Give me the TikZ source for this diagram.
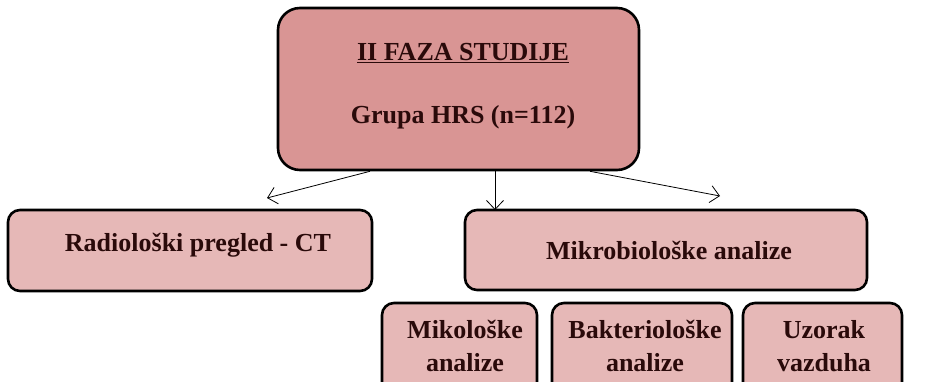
\documentclass[tikz,border=0pt]{standalone}
\usepackage{fontspec}
\setmainfont{Liberation Serif}
\usetikzlibrary{arrows.meta}
\definecolor{topfill}{HTML}{D99594}
\definecolor{boxfill}{HTML}{E6B8B7}
\definecolor{inkdark}{HTML}{2A0A0A}
\tikzset{
  lbl/.style={text=inkdark, font=\bfseries\fontsize{26}{33}\selectfont, align=center, inner sep=0pt},
  box/.style={draw=black, line width=2.6pt, fill=boxfill, rounded corners=12pt, inner sep=0pt},
  topbox/.style={box, fill=topfill, rounded corners=22pt},
  conn/.style={line width=0.8pt, -{Straight Barb[length=9pt,width=17pt,line width=0.8pt]}}
}
\begin{document}
\begin{tikzpicture}[x=1pt,y=-1pt]
\useasboundingbox (0,0) rectangle (925,382);
\begin{scope}
\clip (0,0) rectangle (925,382);
% top box
\node[topbox, minimum width=361pt, minimum height=162pt] (top) at (458.5,89) {};
% second row
\node[box, minimum width=364pt, minimum height=81pt] (rad) at (190,250.5) {};
\node[box, minimum width=402pt, minimum height=80pt] (mik) at (666,250) {};
% third row (runs past the lower edge)
\node[box, minimum width=155pt, minimum height=100pt] (myk) at (459.5,353) {};
\node[box, minimum width=180pt, minimum height=100pt] (bak) at (642,353) {};
\node[box, minimum width=159pt, minimum height=100pt] (uzo) at (822.5,353) {};
\end{scope}
% labels
\node[lbl] (title) at (463,53) {\underline{II FAZA STUDIJE}};
\node[lbl] (grp) at (463,117) {Grupa HRS (n=112)};
\node[lbl] (radt) at (198,245) {Radiološki pregled - CT};
\node[lbl] (mikt) at (669,250) {Mikrobiološke analize};
\node[lbl] (mykt) at (465,346) {Mikološke\\analize};
\node[lbl] (bakt) at (645,346) {Bakteriološke\\analize};
\node[lbl] (uzot) at (824,346) {Uzorak\\vazduha};
% connectors
\coordinate (lt) at (267,198);
\coordinate (mt) at (495,210);
\coordinate (rt) at (720,196);
\draw[conn] (top.south -| 370,0) -- (lt);
\draw[conn] (top.south -| 495,0) -- (mt);
\draw[conn] (top.south -| 590,0) -- (rt);
\end{tikzpicture}
\end{document}
